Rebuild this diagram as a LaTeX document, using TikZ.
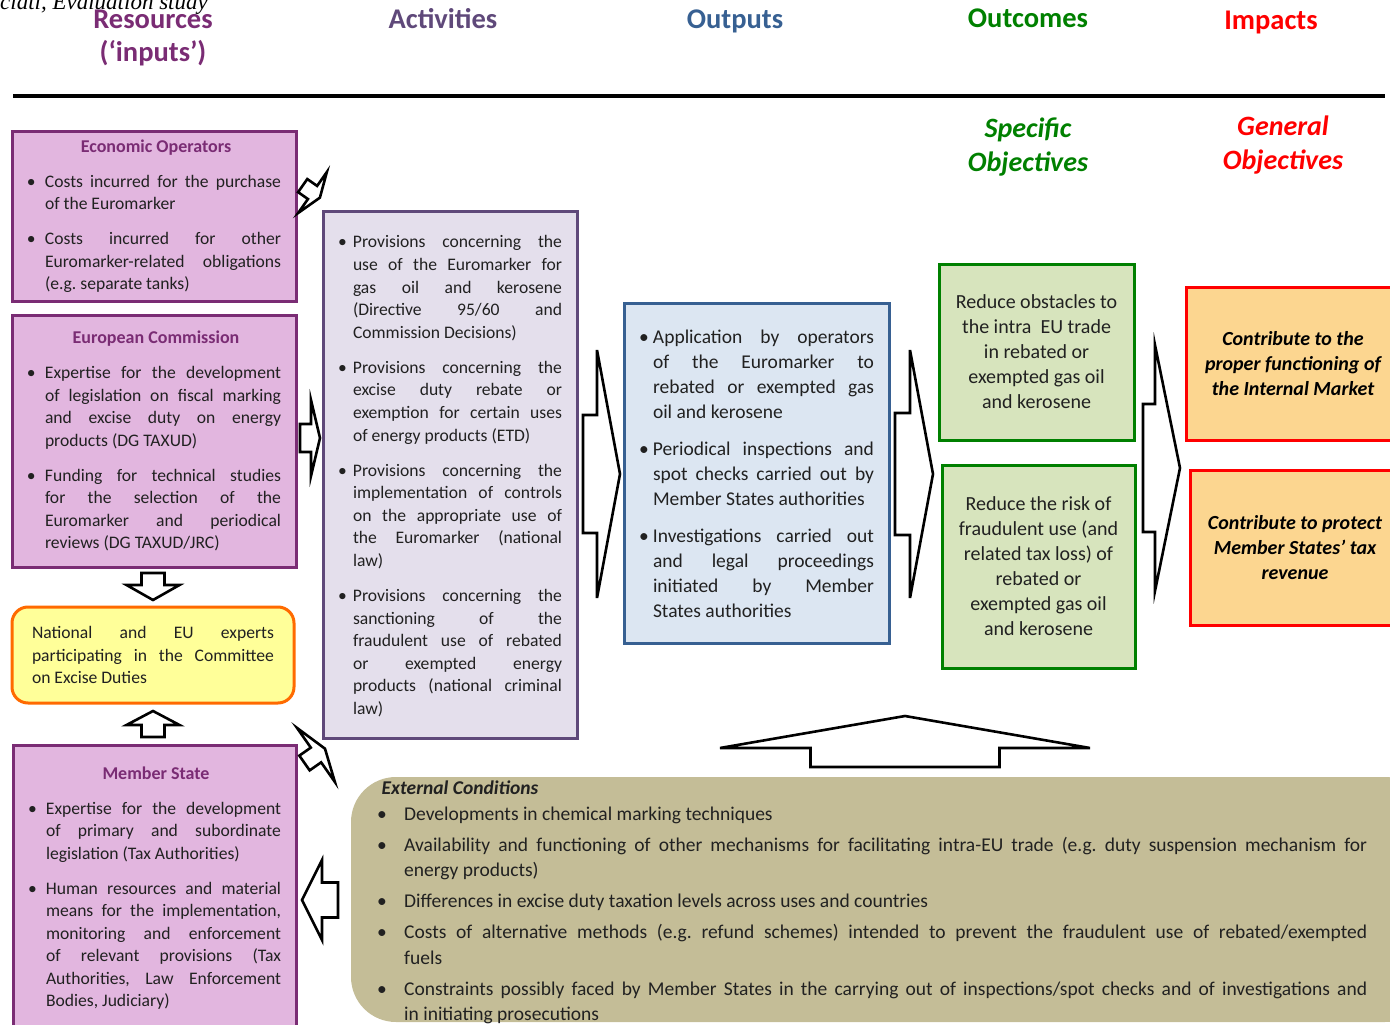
\documentclass[tikz,border=0pt]{standalone}
\usepackage{fontspec}
\setmainfont{Carlito}
\newfontfamily\headerfont{Liberation Serif}
\usepackage{tikz}
\usetikzlibrary{positioning}
\usepackage{xcolor}
\definecolor{plum}{rgb}{0.478, 0.173, 0.455}
\definecolor{orchid}{rgb}{0.886, 0.714, 0.875}
\definecolor{grape}{rgb}{0.373, 0.286, 0.478}
\definecolor{lavender}{rgb}{0.894, 0.875, 0.925}
\definecolor{steel}{rgb}{0.216, 0.376, 0.573}
\definecolor{mist}{rgb}{0.863, 0.902, 0.949}
\definecolor{leaf}{rgb}{0.0, 0.502, 0.0}
\definecolor{sage}{rgb}{0.843, 0.894, 0.741}
\definecolor{scarlet}{rgb}{1.0, 0.0, 0.0}
\definecolor{apricot}{rgb}{0.988, 0.839, 0.565}
\definecolor{flame}{rgb}{1.0, 0.416, 0.0}
\definecolor{lemon}{rgb}{1.0, 1.0, 0.6}
\definecolor{khaki}{rgb}{0.769, 0.741, 0.592}
\definecolor{ink}{rgb}{0.13, 0.13, 0.13}

% No hyphenation, loose justified lines as in the original.
\hyphenpenalty=10000
\exhyphenpenalty=10000
\tolerance=10000
\hbadness=10000
\hfuzz=20pt
\frenchspacing

% A bullet item with a hanging indent.
\newlength{\itmindent}
\setlength{\itmindent}{18pt}
\newcommand{\itm}{\par\hangindent=\itmindent\hangafter=1\noindent\makebox[\itmindent][l]{\textbullet}}
\newcommand{\nl}{\linebreak}
% A centred box title.
\newcommand{\boxtitle}[1]{{\centering\bfseries\fontsize{18}{22.5}\selectfont\color{plum}#1\par}}

% A block arrow: tail x, tail y, angle, body length, body half width, head length, head half width.
\newcommand{\blockarrow}[7]{%
	\draw[block arrow, shift={(#1,#2)}, rotate=#3] (0,-#5) -- (#4,-#5) -- (#4,-#7) -- (#4+#6,0) -- (#4,#7) -- (#4,#5) -- (0,#5) -- cycle;}

\begin{document}
\begin{tikzpicture}[x=1pt, y=-1pt]
	% Fix the size of the page.
	\useasboundingbox (0,0) rectangle (1390,1025);

	\tikzstyle{column title}=[font=\fontsize{28.5}{33}\selectfont\bfseries, anchor=base, align=center, inner sep=0pt]
	\tikzstyle{objective title}=[font=\fontsize{28}{34}\selectfont\bfseries\itshape, anchor=base, align=center, inner sep=0pt]
	\tikzstyle{resource box}=[draw=plum, fill=orchid, line width=3pt, inner sep=0pt, text width=254pt, align=justify, minimum width=284pt, text=ink, font=\fontsize{17.6}{22.5}\selectfont]
	\tikzstyle{activity box}=[draw=grape, fill=lavender, line width=3pt, inner sep=0pt, text width=224pt, align=justify, minimum width=254pt, minimum height=527pt, text=ink, font=\fontsize{17.6}{22.6}\selectfont]
	\tikzstyle{output box}=[draw=steel, fill=mist, line width=3pt, inner sep=0pt, text width=235pt, align=justify, minimum width=265pt, minimum height=340pt, text=ink, font=\fontsize{19.5}{25}\selectfont]
	\tikzstyle{outcome box}=[draw=leaf, fill=sage, line width=3pt, inner sep=0pt, align=center, text=ink, font=\fontsize{20}{25}\selectfont]
	\tikzstyle{impact box}=[draw=scarlet, fill=apricot, line width=3pt, inner sep=0pt, align=center, text=black, font=\fontsize{20}{25}\selectfont\bfseries\itshape]
	\tikzstyle{block arrow}=[draw=black, fill=white, line width=2.6pt, line join=miter]

	% Page header, cut at the top.
	\node at (208,10) [anchor=base east, inner sep=0pt, font=\headerfont\itshape\fontsize{23}{23}\selectfont] (pagehead) {ciati, Evaluation study};

	% Column titles above the rule.
	\node at (153,62) [column title, text=plum] (resources) {Resources\\(‘inputs’)};
	\node at (443,29) [column title, text=grape] (activities) {Activities};
	\node at (735,29) [column title, text=steel] (outputs) {Outputs};
	\node at (1028,28) [column title, text=leaf] (outcomes) {Outcomes};
	\node at (1271,30) [column title, text=scarlet] (impacts) {Impacts};
	\draw[line width=4pt] (13,96) -- (1385,96);

	% Objective titles below the rule.
	\node at (1028,171) [objective title, text=leaf] (specific) {Specific\\Objectives};
	\node at (1283,169) [objective title, text=scarlet] (general) {General\\Objectives};

	% Resources.
	\node at (154,216) [resource box, minimum height=170pt] (eco) {\parindent=0pt\parskip=12.5pt\kern4pt
		\boxtitle{Economic Operators}
		\itm Costs incurred for the purchase\nl of the Euromarker
		\itm Costs incurred for other\nl Euromarker-related obligations\nl (e.g. separate tanks)\par};
	\node at (154,441) [resource box, minimum height=252pt] (ec) {\parindent=0pt\parskip=12.5pt\kern4pt
		\boxtitle{European Commission}
		\itm Expertise for the development\nl of legislation on fiscal marking\nl and excise duty on energy\nl products (DG TAXUD)
		\itm Funding for technical studies\nl for the selection of the\nl Euromarker and periodical\nl reviews (DG TAXUD/JRC)\par};
	\node at (153,655) [draw=flame, fill=lemon, line width=3pt, rounded corners=16pt, inner sep=0pt, text width=242pt, align=justify, minimum width=282pt, minimum height=96pt, text=ink, font=\fontsize{17.6}{22.5}\selectfont] (experts) {\parindent=0pt
		National and EU experts\nl participating in the Committee\nl on Excise Duties\par};
	\node at (154.5,888) [resource box, text width=253pt, minimum width=283pt, minimum height=286pt] (ms) {\parindent=0pt\parskip=12.5pt\kern3pt
		\boxtitle{Member State}
		\itm Expertise for the development\nl of primary and subordinate\nl legislation (Tax Authorities)
		\itm Human resources and material\nl means for the implementation,\nl monitoring and enforcement\nl of relevant provisions (Tax\nl Authorities, Law Enforcement\nl Bodies, Judiciary)\par};

	% Activities.
	\node at (450,474.5) [activity box] (act) {\parindent=0pt\parskip=12.4pt\setlength{\itmindent}{15pt}\vspace*{-19pt}
		\itm Provisions concerning the\nl use of the Euromarker for\nl gas oil and kerosene\nl (Directive 95/60 and\nl Commission Decisions)
		\itm Provisions concerning the\nl excise duty rebate or\nl exemption for certain uses\nl of energy products (ETD)
		\itm Provisions concerning the\nl implementation of controls\nl on the appropriate use of\nl the Euromarker (national\nl law)
		\itm Provisions concerning the\nl sanctioning of the\nl fraudulent use of rebated\nl or exempted energy\nl products (national criminal\nl law)\par};

	% Outputs.
	\node at (756.5,473) [output box] (out) {\parindent=0pt\parskip=12pt\setlength{\itmindent}{14pt}\vspace*{-21pt}
		\itm Application by operators\nl of the Euromarker to\nl rebated or exempted gas\nl oil and kerosene
		\itm Periodical inspections and\nl spot checks carried out by\nl Member States authorities
		\itm Investigations carried out\nl and legal proceedings\nl initiated by Member\nl States authorities\par};

	% Outcomes.
	\node at (1036.5,352) [outcome box, minimum width=195pt, minimum height=176pt] (oc1) {Reduce obstacles to\\the intra~ EU trade\\in rebated or\\exempted gas oil\\and kerosene};
	\node at (1038.5,566.5) [outcome box, minimum width=193pt, minimum height=203pt] (oc2) {Reduce the risk of\\fraudulent use (and\\related tax loss) of\\rebated or\\exempted gas oil\\and kerosene};

	% Impacts.
	\node at (1293,363.5) [impact box, minimum width=214pt, minimum height=153pt] (im1) {Contribute to the\\proper functioning of\\the Internal Market};
	\node at (1295,547.5) [impact box, minimum width=210pt, minimum height=155pt] (im2) {Contribute to protect\\Member States’ tax\\revenue};

	% External conditions.
	\node at (890.5,899.5) [fill=khaki, rounded corners=45pt, minimum width=1079pt, minimum height=245pt] (ext) {};
	\node at (377,781) [anchor=north west, inner sep=0pt, text width=990pt, align=justify, text=ink, font=\fontsize{19.5}{25.2}\selectfont] (exttext) {\parindent=0pt\parskip=6pt\setlength{\itmindent}{27pt}
		{\bfseries\itshape External Conditions\par}\vspace{-6pt}
		\itm Developments in chemical marking techniques
		\itm Availability and functioning of other mechanisms for facilitating intra-EU trade (e.g. duty suspension mechanism for\nl energy products)
		\itm Differences in excise duty taxation levels across uses and countries
		\itm Costs of alternative methods (e.g. refund schemes) intended to prevent the fraudulent use of rebated/exempted\nl fuels
		\itm Constraints possibly faced by Member States in the carrying out of inspections/spot checks and of investigations and\nl in initiating prosecutions\par};

	% Block arrows between the columns.
	\blockarrow{302.7}{185.6}{-35}{12}{8}{9}{25}
	\blockarrow{300}{438}{0}{11}{14}{9}{38}
	\blockarrow{304.5}{763}{35}{14}{9}{11}{33}
	\blockarrow{338}{900}{180}{16}{17.5}{20}{40}
	\blockarrow{153}{573}{-90}{12}{11.5}{15}{26.5}
	\blockarrow{153}{737}{90}{12}{11.5}{14}{26.5}
	\blockarrow{583}{474}{0}{14}{59}{23}{124}
	\blockarrow{895}{474}{0}{15}{61}{23}{124}
	\blockarrow{1143}{468}{0}{12}{64}{25}{123}
	\blockarrow{905}{767}{90}{19}{94.5}{32}{185}
\end{tikzpicture}
\end{document}
